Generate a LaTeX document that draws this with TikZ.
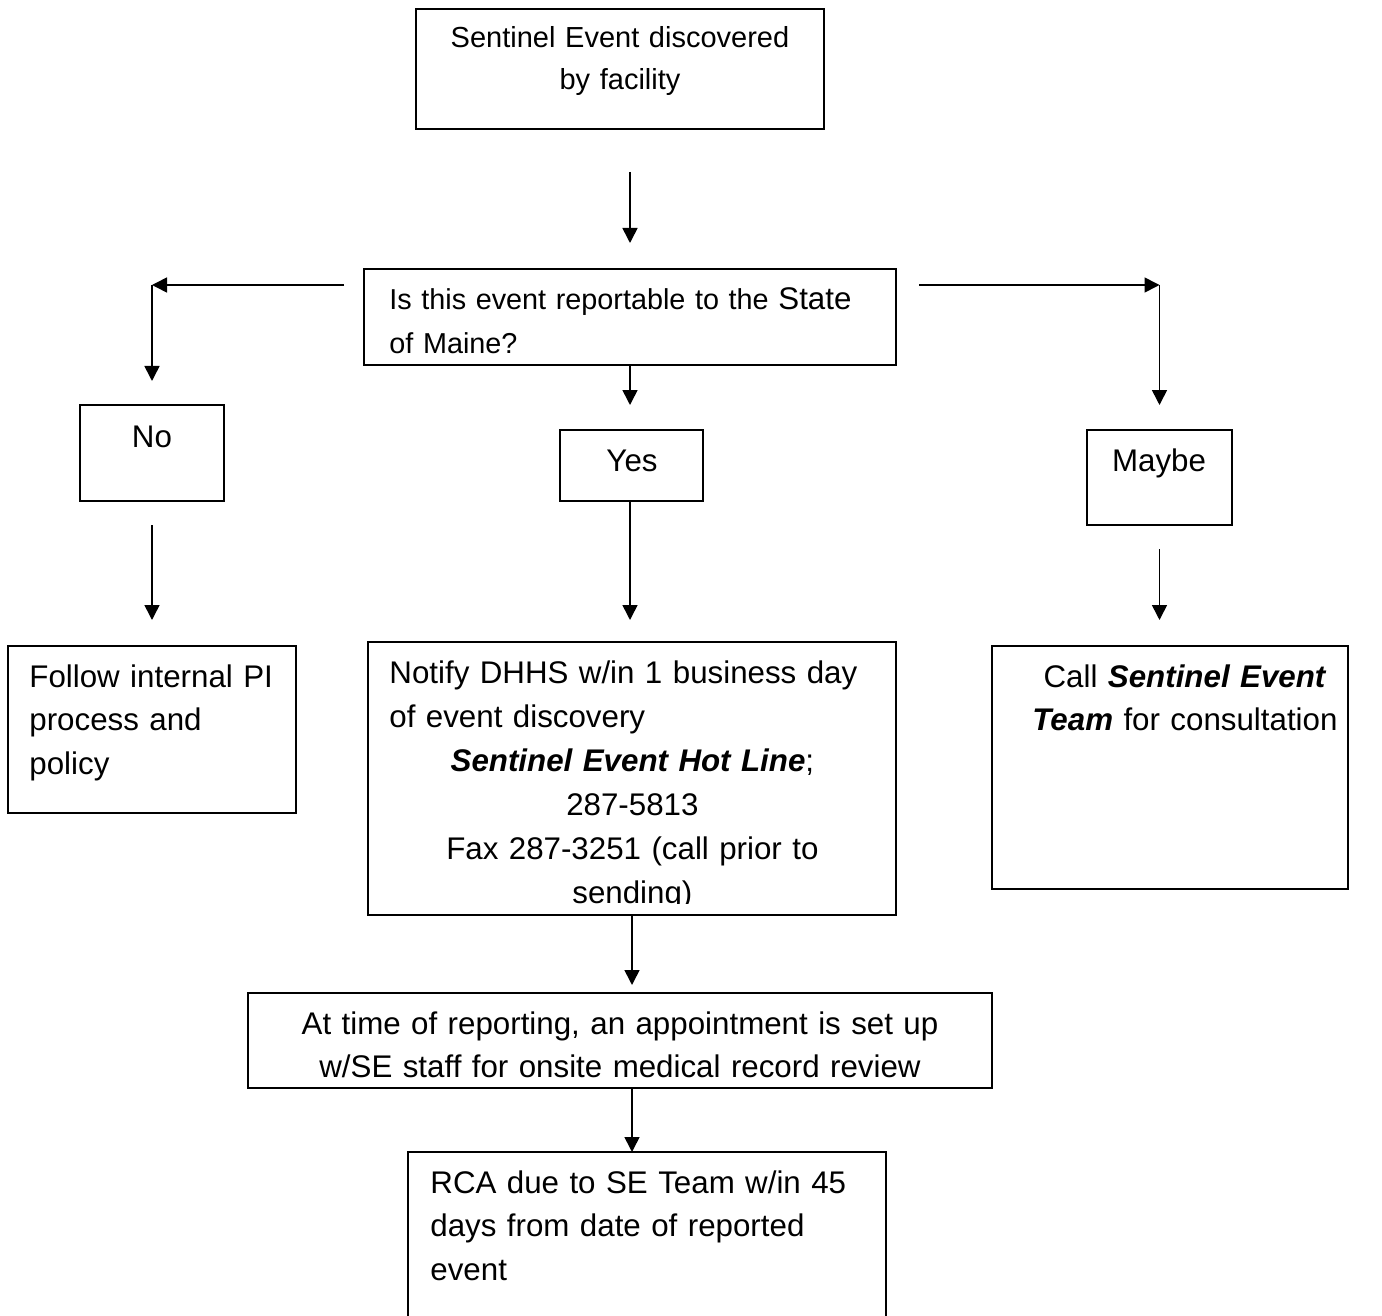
\documentclass[tikz,border=0pt]{standalone}
\usepackage{fontspec}
\setmainfont{Liberation Sans}
\usetikzlibrary{arrows.meta}

\begin{document}
\begin{tikzpicture}[x=0.5pt,y=-0.5pt,
  box/.style={draw,line width=1pt,inner sep=0pt,outer sep=0pt},
  txt/.style={inner sep=0pt,font=\fontsize{15.65}{21.75}\selectfont},
  arr/.style={line width=0.8pt,-{Triangle[length=7.5pt,width=7.5pt]}}]
\clip(0,0) rectangle (1382,1316);
% boxes
\node[box,minimum width=204pt,minimum height=60pt] (start) at (620,69) {};
\node[box,minimum width=266pt,minimum height=48pt] (ask) at (630,317) {};
\node[box,minimum width=72pt,minimum height=48pt] (no) at (152,453) {};
\node[box,minimum width=71.5pt,minimum height=35.5pt] (yes) at (631.5,465.5) {};
\node[box,minimum width=72.5pt,minimum height=47.5pt] (maybe) at (1159.5,477.5) {};
\node[box,minimum width=144pt,minimum height=83.5pt] (follow) at (152,729.5) {};
\node[box,minimum width=264pt,minimum height=136.5pt] (notify) at (632,778.5) {};
\node[box,minimum width=178pt,minimum height=121.5pt] (callteam) at (1170,767.5) {};
\node[box,minimum width=372pt,minimum height=47.5pt] (appt) at (620,1040.5) {};
\node[box,minimum width=239pt,minimum height=89pt] (rca) at (647,1241) {};
% texts
\node[txt,anchor=base,text width=190pt,align=center,font=\fontsize{14.5}{21}\selectfont] (startt) at (620,48) {Sentinel Event discovered\\by facility};
\node[txt,anchor=base west,text width=250pt,align=left,font=\fontsize{14.4}{22}\selectfont] (askt) at (389,310) {Is this event reportable to the {\fontsize{15.65}{22}\selectfont State}\\of Maine?};
\node[txt,anchor=base] (not) at (152,447) {No};
\node[txt,anchor=base] (yest) at (632,471) {Yes};
\node[txt,anchor=base] (maybet) at (1159,471) {Maybe};
\node[txt,anchor=base west,text width=135pt,align=left] (followt) at (29,687) {Follow internal PI\\process and\\policy};
\begin{scope}
\clip (notify.north west) rectangle (896,903);
\node[txt,anchor=base west,text width=243pt,align=left,font=\fontsize{15.65}{22}\selectfont] (notifyt) at (389,683) {Notify DHHS w/in 1 business day\\of event discovery\\\makebox[243pt]{\textbf{\textit{Sentinel Event Hot Line}};}\\\makebox[243pt]{287-5813}\\\makebox[243pt]{Fax 287-3251 (call prior to}\\\makebox[243pt]{sending)}};
\end{scope}
\node[txt,anchor=base,text width=170pt,align=center] (callt) at (1185,687) {Call \textbf{\textit{Sentinel Event}}\\\textbf{\textit{Team}} for consultation};
\node[txt,anchor=base,text width=365pt,align=center] (apptt) at (620,1034) {At time of reporting, an appointment is set up\\w/SE staff for onsite medical record review};
\node[txt,anchor=base west,text width=225pt,align=left] (rcat) at (430,1193) {RCA due to SE Team w/in 45\\days from date of reported\\event};
% corners of the side branches
\coordinate (nocorner) at (152,285);
\coordinate (maycorner) at (1159.5,285);
% arrows
\draw[arr,shorten <=21.5pt,shorten >=13pt] (start.south -| ask.north) -- (ask.north);
\draw[arr,shorten <=10pt] (ask.west |- nocorner) -- (nocorner);
\draw[arr,shorten >=12pt] (nocorner) -- (no.north);
\draw[arr,shorten <=11.5pt] (ask.east |- maycorner) -- (maycorner);
\draw[arr,shorten >=12.5pt] (maycorner) -- (maybe.north);
\draw[arr,shorten >=12.5pt] (ask.south) -- (ask.south |- yes.north);
\draw[arr,shorten <=12pt,shorten >=13pt] (no.south) -- (no.south |- follow.north);
\draw[arr,shorten >=11pt] (ask.south |- yes.south) -- (ask.south |- notify.north);
\draw[arr,shorten <=12pt,shorten >=13pt] (maybe.south) -- (maybe.south |- callteam.north);
\draw[arr,shorten >=4pt] (notify.south) -- (notify.south |- appt.north);
\draw[arr] (notify.south |- appt.south) -- (notify.south |- rca.north);
\end{tikzpicture}
\end{document}
